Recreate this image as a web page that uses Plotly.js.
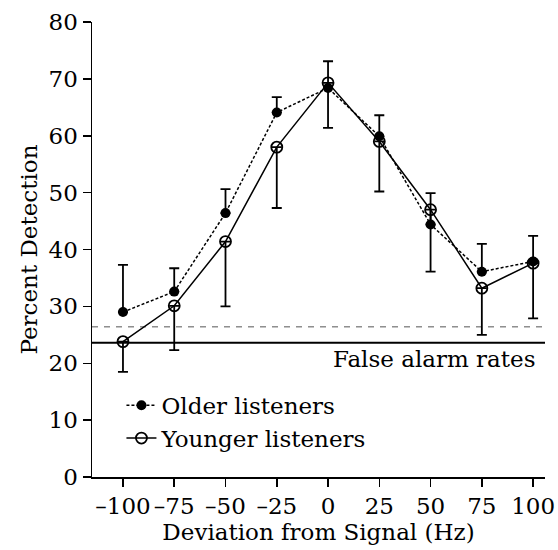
<!DOCTYPE html>
<html>
<head>
<meta charset="utf-8">
<script src="https://cdn.plot.ly/plotly-3.0.1.min.js"></script>
<style>html,body{margin:0;padding:0;background:#fff;}#chart{width:558px;height:550px;}</style>
</head>
<body>
<div id="chart"></div>
<script>
// Data
var deviations = [-100, -75, -50, -25, 0, 25, 50, 75, 100];
var tickLabels = ['\u2013100', '\u201375', '\u201350', '\u201325', '0', '25', '50', '75', '100'];
var olderValues = [29.0, 32.6, 46.4, 64.1, 68.4, 59.9, 44.4, 36.1, 37.9];
var olderErrUp = [8.3, 4.1, 4.2, 2.7, 4.7, 3.7, 5.5, 4.9, 4.5];
var youngerValues = [23.8, 30.1, 41.4, 58.0, 69.3, 59.0, 47.0, 33.2, 37.6];
var youngerErrDown = [5.3, 7.8, 11.4, 10.7, 7.9, 8.8, 10.9, 8.2, 9.7];
var falseAlarmOlder = 26.4;
var falseAlarmYounger = 23.6;
var xRange = [-115.1, 105.8];

var FONT = 'DejaVu Serif, serif';
var FS = 23;

var traces = [
  {
    x: xRange, y: [falseAlarmOlder, falseAlarmOlder],
    mode: 'lines', showlegend: false, hoverinfo: 'skip',
    line: {color: '#555', width: 1, dash: '6px,6px'}
  },
  {
    x: xRange, y: [falseAlarmYounger, falseAlarmYounger],
    mode: 'lines', showlegend: false, hoverinfo: 'skip',
    line: {color: '#000', width: 1.8}
  },
  {
    name: 'Older listeners',
    x: deviations, y: olderValues,
    mode: 'lines+markers',
    line: {color: '#000', width: 1.5, dash: '3px,2px'},
    marker: {symbol: 'circle', size: 10, color: '#000'},
    error_y: {type: 'data', symmetric: false, array: olderErrUp,
      arrayminus: deviations.map(function(){return 0;}),
      color: '#000', thickness: 1.8, width: 5}
  },
  {
    name: 'Younger listeners',
    x: deviations, y: youngerValues,
    mode: 'lines+markers',
    line: {color: '#000', width: 1.5},
    marker: {symbol: 'circle-open', size: 11, color: '#000', line: {width: 1.8, color: '#000'}},
    error_y: {type: 'data', symmetric: false, array: deviations.map(function(){return 0;}),
      arrayminus: youngerErrDown,
      color: '#000', thickness: 1.8, width: 5}
  }
];

var layout = {
  width: 558, height: 550,
  margin: {l: 92, r: 13, t: 22, b: 73},
  paper_bgcolor: '#fff', plot_bgcolor: '#fff',
  font: {family: FONT, size: FS, color: '#000'},
  showlegend: true,
  legend: {
    x: 0.065, y: 0.205, xanchor: 'left', yanchor: 'top',
    bgcolor: 'rgba(0,0,0,0)', borderwidth: 0,
    font: {family: FONT, size: FS, color: '#000'},
    tracegroupgap: 0
  },
  xaxis: {
    range: xRange,
    tickmode: 'array', tickvals: deviations, ticktext: tickLabels,
    ticks: 'outside', ticklen: 8, tickwidth: 1.5, tickcolor: '#000',
    showline: true, linecolor: '#000', linewidth: 1.5,
    showgrid: false, zeroline: false, mirror: false,
    tickfont: {family: FONT, size: FS, color: '#000'},
    title: {text: 'Deviation from Signal (Hz)', font: {family: FONT, size: FS, color: '#000'}, standoff: 2}
  },
  yaxis: {
    range: [0, 80],
    tickmode: 'array', tickvals: [0, 10, 20, 30, 40, 50, 60, 70, 80],
    ticks: 'outside', ticklen: 8, tickwidth: 1.5, tickcolor: '#000',
    showline: true, linecolor: '#000', linewidth: 1.5,
    showgrid: false, zeroline: false, mirror: false,
    tickfont: {family: FONT, size: FS, color: '#000'},
    title: {text: 'Percent Detection', font: {family: FONT, size: FS, color: '#000'}, standoff: 4}
  },
  annotations: [
    {text: 'False alarm rates', xref: 'paper', yref: 'y', x: 0.982, y: 20.7,
     xanchor: 'right', yanchor: 'middle', showarrow: false,
     font: {family: FONT, size: FS, color: '#000'}}
  ]
};

Plotly.newPlot('chart', traces, layout, {displayModeBar: false, staticPlot: true});
</script>
</body>
</html>
